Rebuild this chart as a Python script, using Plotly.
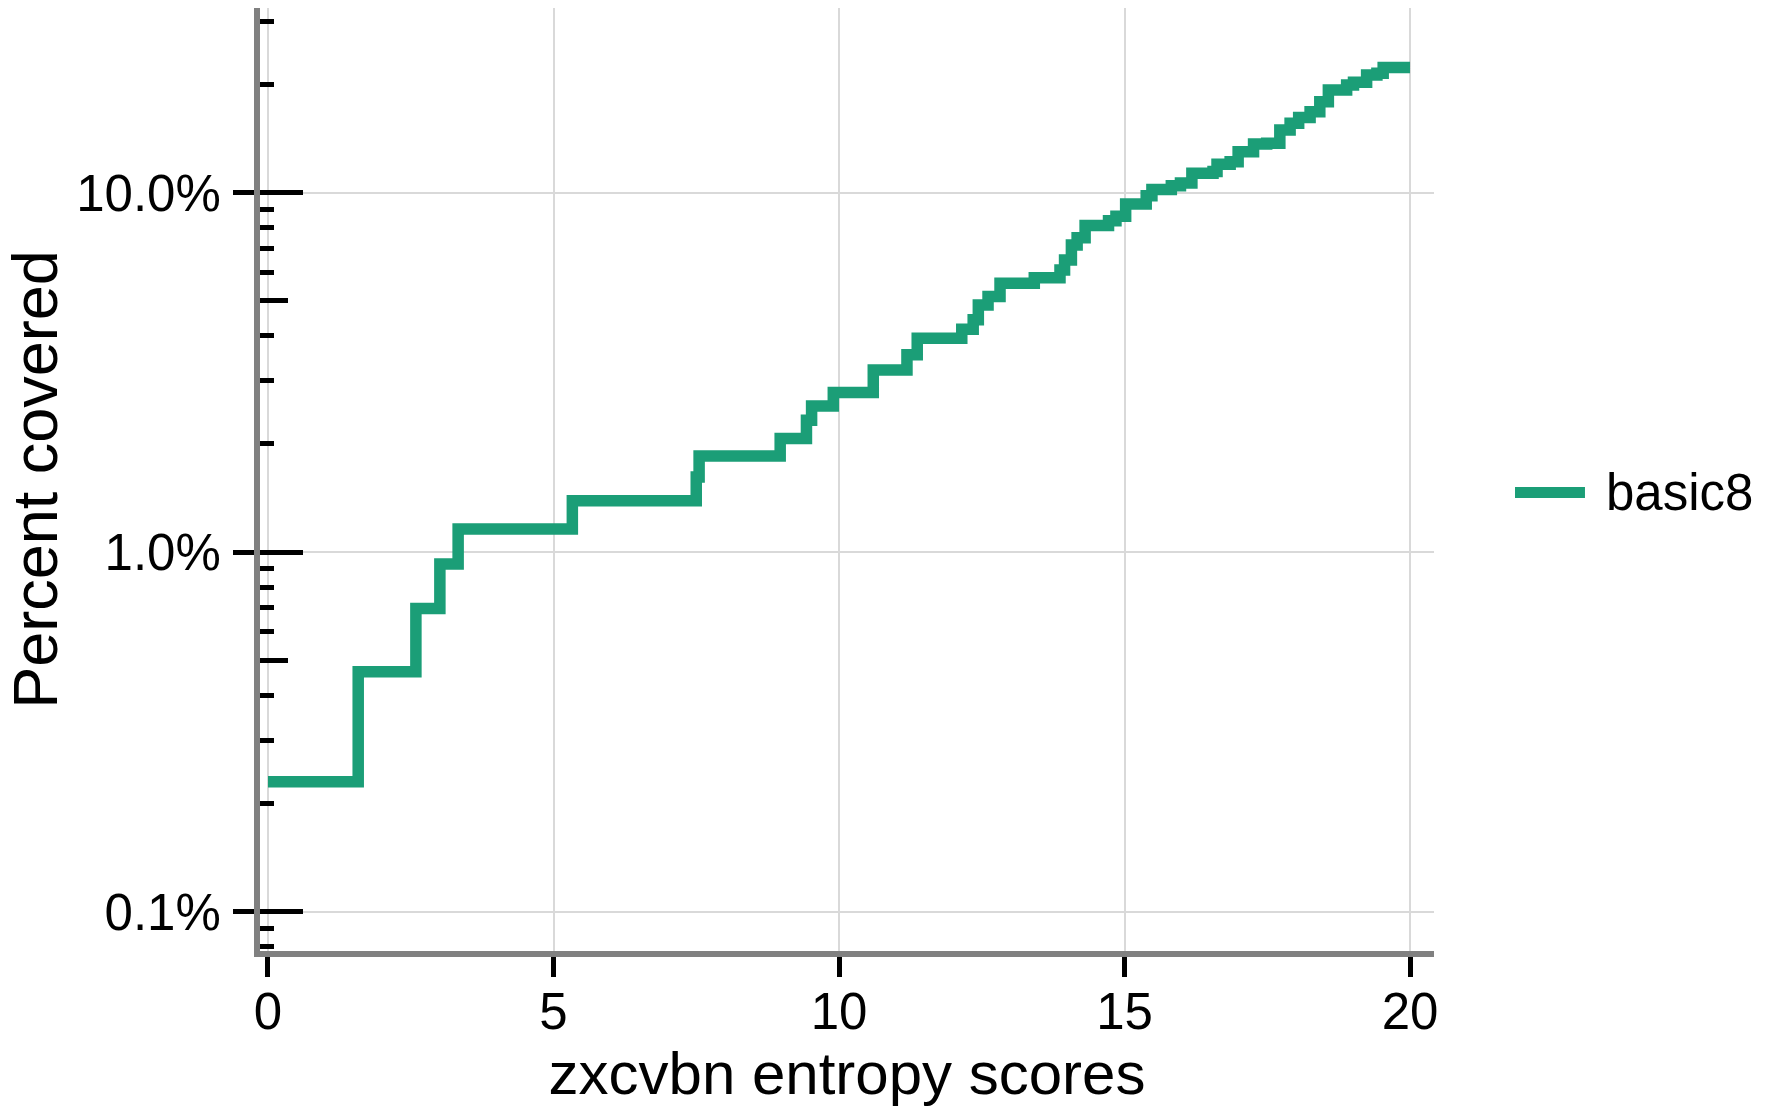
import plotly.graph_objects as go

# ---- data ----
series_name = "basic8"
x_scores = [0, 1.58, 2.59, 3.01, 3.33, 5.33, 7.50, 7.55, 8.97, 9.43, 9.52, 9.90,
            10.60, 11.19, 11.37, 12.15, 12.35, 12.44, 12.61, 12.82, 13.42, 13.87,
            13.95, 14.07, 14.17, 14.31, 14.72, 14.85, 15.02, 15.38, 15.48, 15.82,
            15.98, 16.18, 16.55, 16.62, 16.85, 16.99, 17.26, 17.49, 17.72, 17.90,
            18.05, 18.25, 18.42, 18.57, 18.89, 19.01, 19.24, 19.42, 19.53, 20.0]
pct_covered = [0.230, 0.465, 0.697, 0.927, 1.160, 1.391, 1.62, 1.852, 2.073, 2.33,
               2.55, 2.78, 3.21, 3.54, 3.94, 4.17, 4.43, 4.87, 5.14, 5.60, 5.80,
               6.10, 6.50, 7.15, 7.50, 8.10, 8.35, 8.60, 9.30, 9.80, 10.20, 10.45,
               10.65, 11.32, 11.45, 12.0, 12.2, 13.0, 13.66, 13.72, 14.94, 15.6,
               16.2, 16.8, 17.9, 19.3, 19.95, 20.3, 21.25, 21.5, 22.3, 22.3]

x_tickvals = [0, 5, 10, 15, 20]
y_tickvals = [0.1, 1, 10]
y_ticktext = ["0.1%", "1.0%", "10.0%"]
y_minor_small = [0.08, 0.09, 0.2, 0.3, 0.4, 0.6, 0.7, 0.8, 0.9,
                 2, 3, 4, 6, 7, 8, 9, 20, 30]
y_minor_mid = [0.5, 5]

LINE_COLOR = "#1b9e77"
FONT = "Liberation Sans, Arial, Helvetica, sans-serif"
X_RANGE = [-0.140, 20.42]
Y_RANGE = [-1.1093, 1.5138]

fig = go.Figure()
fig.add_trace(go.Scatter(
    x=x_scores, y=pct_covered, mode="lines", line_shape="hv",
    line=dict(color=LINE_COLOR, width=11.5), name=series_name,
    showlegend=False, hoverinfo="x+y"))
# invisible helper trace so the overlay axis (crossing ticks) is drawn
fig.add_trace(go.Scatter(
    x=x_scores, y=pct_covered, yaxis="y2", mode="lines",
    line=dict(color="rgba(0,0,0,0)", width=0), showlegend=False,
    hoverinfo="skip"))

fig.update_layout(
    width=1770, height=1109,
    margin=dict(l=260, r=336, t=8, b=158),
    paper_bgcolor="white", plot_bgcolor="white",
    font=dict(family=FONT, color="black"),
    showlegend=False,
    xaxis=dict(
        range=X_RANGE, tickvals=x_tickvals, ticks="outside", ticklen=20,
        tickwidth=5, tickcolor="black", showline=True, linecolor="#808080",
        linewidth=6, showgrid=True, gridcolor="#d9d9d9", gridwidth=2,
        zeroline=False, tickfont=dict(size=51, color="black", family=FONT),
        ticklabelstandoff=-9,
        title=dict(text="zxcvbn entropy scores",
                   font=dict(size=60, color="black", family=FONT), standoff=12),
    ),
    yaxis=dict(
        type="log", range=Y_RANGE, tickvals=y_tickvals, ticktext=y_ticktext,
        ticks="outside", ticklen=21, tickwidth=5, tickcolor="black",
        showline=True, linecolor="#808080", linewidth=6,
        showgrid=True, gridcolor="#d9d9d9", gridwidth=2, zeroline=False,
        tickfont=dict(size=51, color="black", family=FONT),
        ticklabelstandoff=2,
        minor=dict(tickvals=y_minor_small, ticks="inside", ticklen=14,
                   tickwidth=5, tickcolor="black", showgrid=False),
        title=dict(text="Percent covered",
                   font=dict(size=63, color="black", family=FONT), standoff=16),
    ),
    yaxis2=dict(
        type="log", range=Y_RANGE, overlaying="y", side="left", anchor="x",
        tickvals=y_tickvals, ticks="inside", ticklen=43, tickwidth=5,
        tickcolor="black", showticklabels=False, showgrid=False,
        showline=False, zeroline=False,
        minor=dict(tickvals=y_minor_mid, ticks="inside", ticklen=28,
                   tickwidth=5, tickcolor="black", showgrid=False),
    ),
)

# manual legend (long swatch as in the reference)
fig.add_shape(type="line", xref="paper", yref="paper",
              x0=1.069, x1=1.1286, y0=0.4862, y1=0.4862,
              line=dict(color=LINE_COLOR, width=11))
fig.add_annotation(text=series_name, xref="paper", yref="paper",
                   x=1.1445, y=0.4862, xanchor="left", yanchor="middle",
                   showarrow=False,
                   font=dict(size=51, color="black", family=FONT))

fig.write_html("out.html")
